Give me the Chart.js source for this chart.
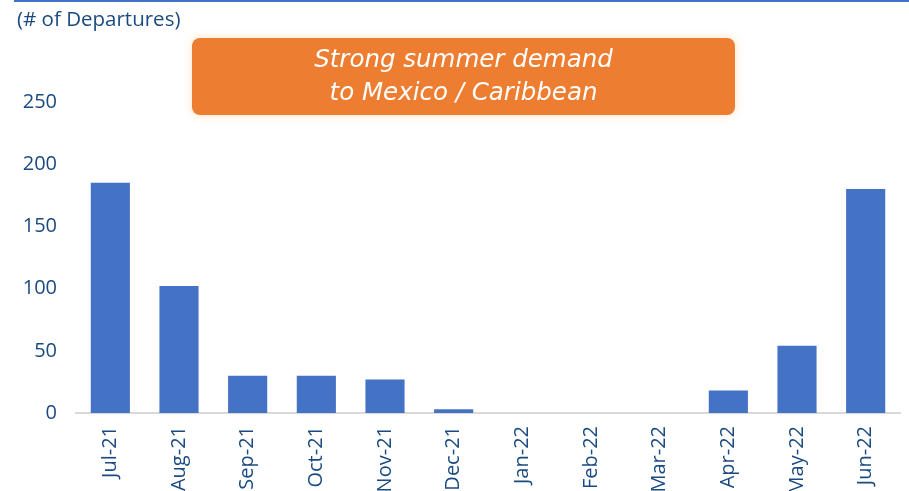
<!DOCTYPE html>
<html>
<head>
<meta charset="utf-8">
<script src="https://cdn.jsdelivr.net/npm/chart.js@4.4.1/dist/chart.umd.min.js"></script>
<style>
html,body{margin:0;padding:0;background:#fff;}
#wrap{position:relative;width:909px;height:491px;}
</style>
</head>
<body>
<div id="wrap"><canvas id="c" width="909" height="491"></canvas></div>
<script>
const categories = ["Jul-21","Aug-21","Sep-21","Oct-21","Nov-21","Dec-21","Jan-22","Feb-22","Mar-22","Apr-22","May-22","Jun-22"];
const departures = [185, 102, 30, 30, 27, 3, 0, 0, 0, 18, 54, 180];
const yTicks = [0, 50, 100, 150, 200, 250];
const unitLabel = "(# of Departures)";
const calloutLines = ["Strong summer demand", "to Mexico / Caribbean"];

const textBlue = "#1A4A80";

const decor = {
  id: "decor",
  beforeDraw(chart) {
    const ctx = chart.ctx;
    ctx.save();
    ctx.fillStyle = "#fff";
    ctx.fillRect(0, 0, chart.width, chart.height);
    ctx.strokeStyle = "#4472C4";
    ctx.lineWidth = 2;
    ctx.beginPath();
    ctx.moveTo(14, 1);
    ctx.lineTo(909, 1);
    ctx.stroke();
    ctx.fillStyle = textBlue;
    ctx.font = "20.5px 'Open Sans'";
    ctx.textAlign = "left";
    ctx.textBaseline = "middle";
    ctx.fillText(unitLabel, 17, 20);
    ctx.restore();
  },
  afterDraw(chart) {
    const ctx = chart.ctx;
    ctx.save();
    const x = 192, y = 38, w = 543, h = 77, r = 8;
    ctx.shadowColor = "rgba(255,190,110,0.45)";
    ctx.shadowBlur = 8;
    ctx.fillStyle = "#ED7D31";
    ctx.beginPath();
    ctx.roundRect(x, y, w, h, r);
    ctx.fill();
    ctx.shadowBlur = 0;
    ctx.shadowColor = "transparent";
    ctx.fillStyle = "#fff";
    ctx.font = "oblique 24.5px 'DejaVu Sans'";
    ctx.textAlign = "center";
    ctx.textBaseline = "middle";
    ctx.fillText(calloutLines[0], x + w / 2, 61);
    ctx.fillText(calloutLines[1], x + w / 2, 94);
    ctx.restore();
  }
};

new Chart(document.getElementById("c"), {
  type: "bar",
  data: {
    labels: categories,
    datasets: [{
      data: departures,
      backgroundColor: "#4472C4",
      categoryPercentage: 1.0,
      barPercentage: 0.57
    }]
  },
  options: {
    responsive: false,
    animation: false,
    devicePixelRatio: 1,
    layout: { padding: { left: 0, right: 9, top: 102, bottom: 0 } },
    plugins: { legend: { display: false }, tooltip: { enabled: false } },
    scales: {
      x: {
        grid: { display: false, drawTicks: false },
        border: { display: true, color: "#D9D9D9", width: 2 },
        ticks: {
          color: textBlue,
          font: { family: "'Open Sans'", size: 20 },
          minRotation: 90,
          maxRotation: 90,
          padding: 13,
          autoSkip: false
        },
        afterFit(scale) { scale.height = 78; }
      },
      y: {
        min: 0,
        max: 250,
        afterBuildTicks(scale) { scale.ticks = yTicks.map(v => ({ value: v })); },
        grid: { display: false, drawTicks: false },
        border: { display: false },
        ticks: {
          color: textBlue,
          font: { family: "'Open Sans'", size: 20 },
          padding: 19
        },
        afterFit(scale) { scale.width = 76; }
      }
    }
  },
  plugins: [decor]
});
</script>
</body>
</html>
